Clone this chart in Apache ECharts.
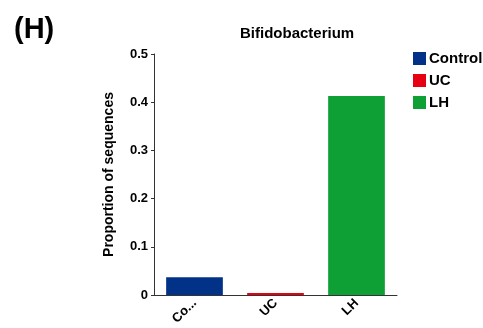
<!DOCTYPE html>
<html><head><meta charset="utf-8">
<script src="https://cdn.jsdelivr.net/npm/echarts@6/dist/echarts.min.js"></script>
<style>html,body{margin:0;padding:0;background:#fff}#c{width:483px;height:328px}</style>
</head><body><div id="c"></div>
<script>
const categories = ['Control', 'UC', 'LH'];
const tickLabels = ['Co...', 'UC', 'LH'];
const values = [0.037, 0.004, 0.413];
const yTicks = [0, 0.1, 0.2, 0.3, 0.4, 0.5];
const colors = ['#023288', '#e60012', '#0fa035'];

const chart = echarts.init(document.getElementById('c'));
const series = categories.map((name, i) => ({
  name: name,
  type: 'bar',
  stack: 'all',
  barWidth: '70%',
  itemStyle: { color: colors[i] },
  data: categories.map((c, j) => (j === i ? values[i] : null))
}));
chart.setOption({
  animation: false,
  textStyle: { fontFamily: 'Liberation Sans, Arial, sans-serif' },
  title: [
    { text: '(H)', left: 9, top: 10, textStyle: { fontSize: 29, fontWeight: 'bold', color: '#000', fontFamily: 'Liberation Sans, Arial' } },
    { text: 'Bifidobacterium', left: 235, top: 21, textStyle: { fontSize: 15, fontWeight: 'bold', color: '#000', fontFamily: 'Liberation Sans, Arial' } }
  ],
  legend: {
    orient: 'vertical', left: 408, top: 46, itemWidth: 13, itemHeight: 13, itemGap: 7,
    icon: 'rect',
    textStyle: { fontSize: 15, fontWeight: 'bold', color: '#000', padding: [0, 0, 0, -2] },
    data: categories
  },
  grid: { left: 154, right: 86, top: 54, bottom: 33 },
  xAxis: {
    type: 'category', data: categories,
    axisLine: { lineStyle: { color: '#333', width: 1 } },
    axisTick: { alignWithLabel: true, length: 4, lineStyle: { color: '#333' } },
    axisLabel: { rotate: 45, fontSize: 13, fontWeight: 'bold', color: '#000', margin: 6,
      formatter: (v, i) => tickLabels[i] }
  },
  yAxis: {
    type: 'value', min: 0, max: 0.5, interval: 0.1,
    name: 'Proportion of sequences', nameLocation: 'middle', nameGap: 38,
    nameTextStyle: { fontSize: 14, fontWeight: 'bold', color: '#000' },
    axisLine: { show: true, lineStyle: { color: '#333', width: 1 } },
    axisTick: { show: true, length: 3, lineStyle: { color: '#333' } },
    splitLine: { show: false },
    axisLabel: { fontSize: 13, fontWeight: 'bold', color: '#000', margin: 6, padding: [0, 0, 8, 0],
      formatter: v => { const t = yTicks.find(x => Math.abs(x - v) < 1e-9); return t === 0 ? '0' : String(t); } }
  },
  series: series
});
</script></body></html>
